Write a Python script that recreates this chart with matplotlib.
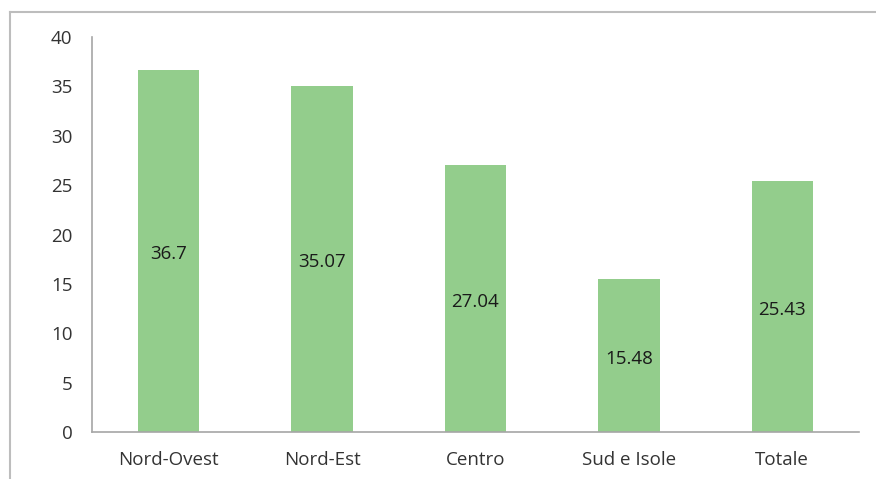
import matplotlib
matplotlib.use("Agg")
import matplotlib.pyplot as plt
from matplotlib.lines import Line2D

categories = ["Nord-Ovest", "Nord-Est", "Centro", "Sud e Isole", "Totale"]
values = [36.7, 35.07, 27.04, 15.48, 25.43]
labels = ["36.7", "35.07", "27.04", "15.48", "25.43"]
yticks = [0, 5, 10, 15, 20, 25, 30, 35, 40]

plt.rcParams['font.family'] = ['Open Sans', 'DejaVu Sans']

W, H = 876, 479
fig = plt.figure(figsize=(W / 100, H / 100), dpi=100)
ax = fig.add_axes([92 / W, 1 - 432 / H, (859 - 92) / W, (432 - 37) / H])

x = list(range(len(categories)))
ax.bar(x, values, width=0.4, color="#93cd8c", zorder=2)
for xi, v, lab in zip(x, values, labels):
    ax.annotate(lab, (xi, v / 2), xytext=(0, -2.5), textcoords="offset points",
                ha="center", va="center", fontsize=13.5, color="#1a1a1a")

ax.set_xlim(-0.5, len(categories) - 0.5)
ax.set_ylim(0, 40)
ax.set_yticks(yticks)
ax.set_yticklabels([str(t) for t in yticks])
ax.set_xticks(x)
ax.set_xticklabels(categories)
ax.tick_params(axis="both", length=0, labelsize=13.5, labelcolor="#333333")
ax.tick_params(axis="y", pad=14)
ax.tick_params(axis="x", pad=14)
for s in ["top", "right"]:
    ax.spines[s].set_visible(False)
for s in ["left", "bottom"]:
    ax.spines[s].set_color("#a6a6a6")
    ax.spines[s].set_linewidth(1.2)

# outer frame (top and left edges visible)
fig.add_artist(Line2D([10 / W, 1.0], [1 - 12 / H, 1 - 12 / H], transform=fig.transFigure,
                      color="#bdbdbd", linewidth=1.5))
fig.add_artist(Line2D([10 / W, 10 / W], [0, 1 - 12 / H], transform=fig.transFigure,
                      color="#bdbdbd", linewidth=1.5))

fig.savefig("out.png", dpi=100)
